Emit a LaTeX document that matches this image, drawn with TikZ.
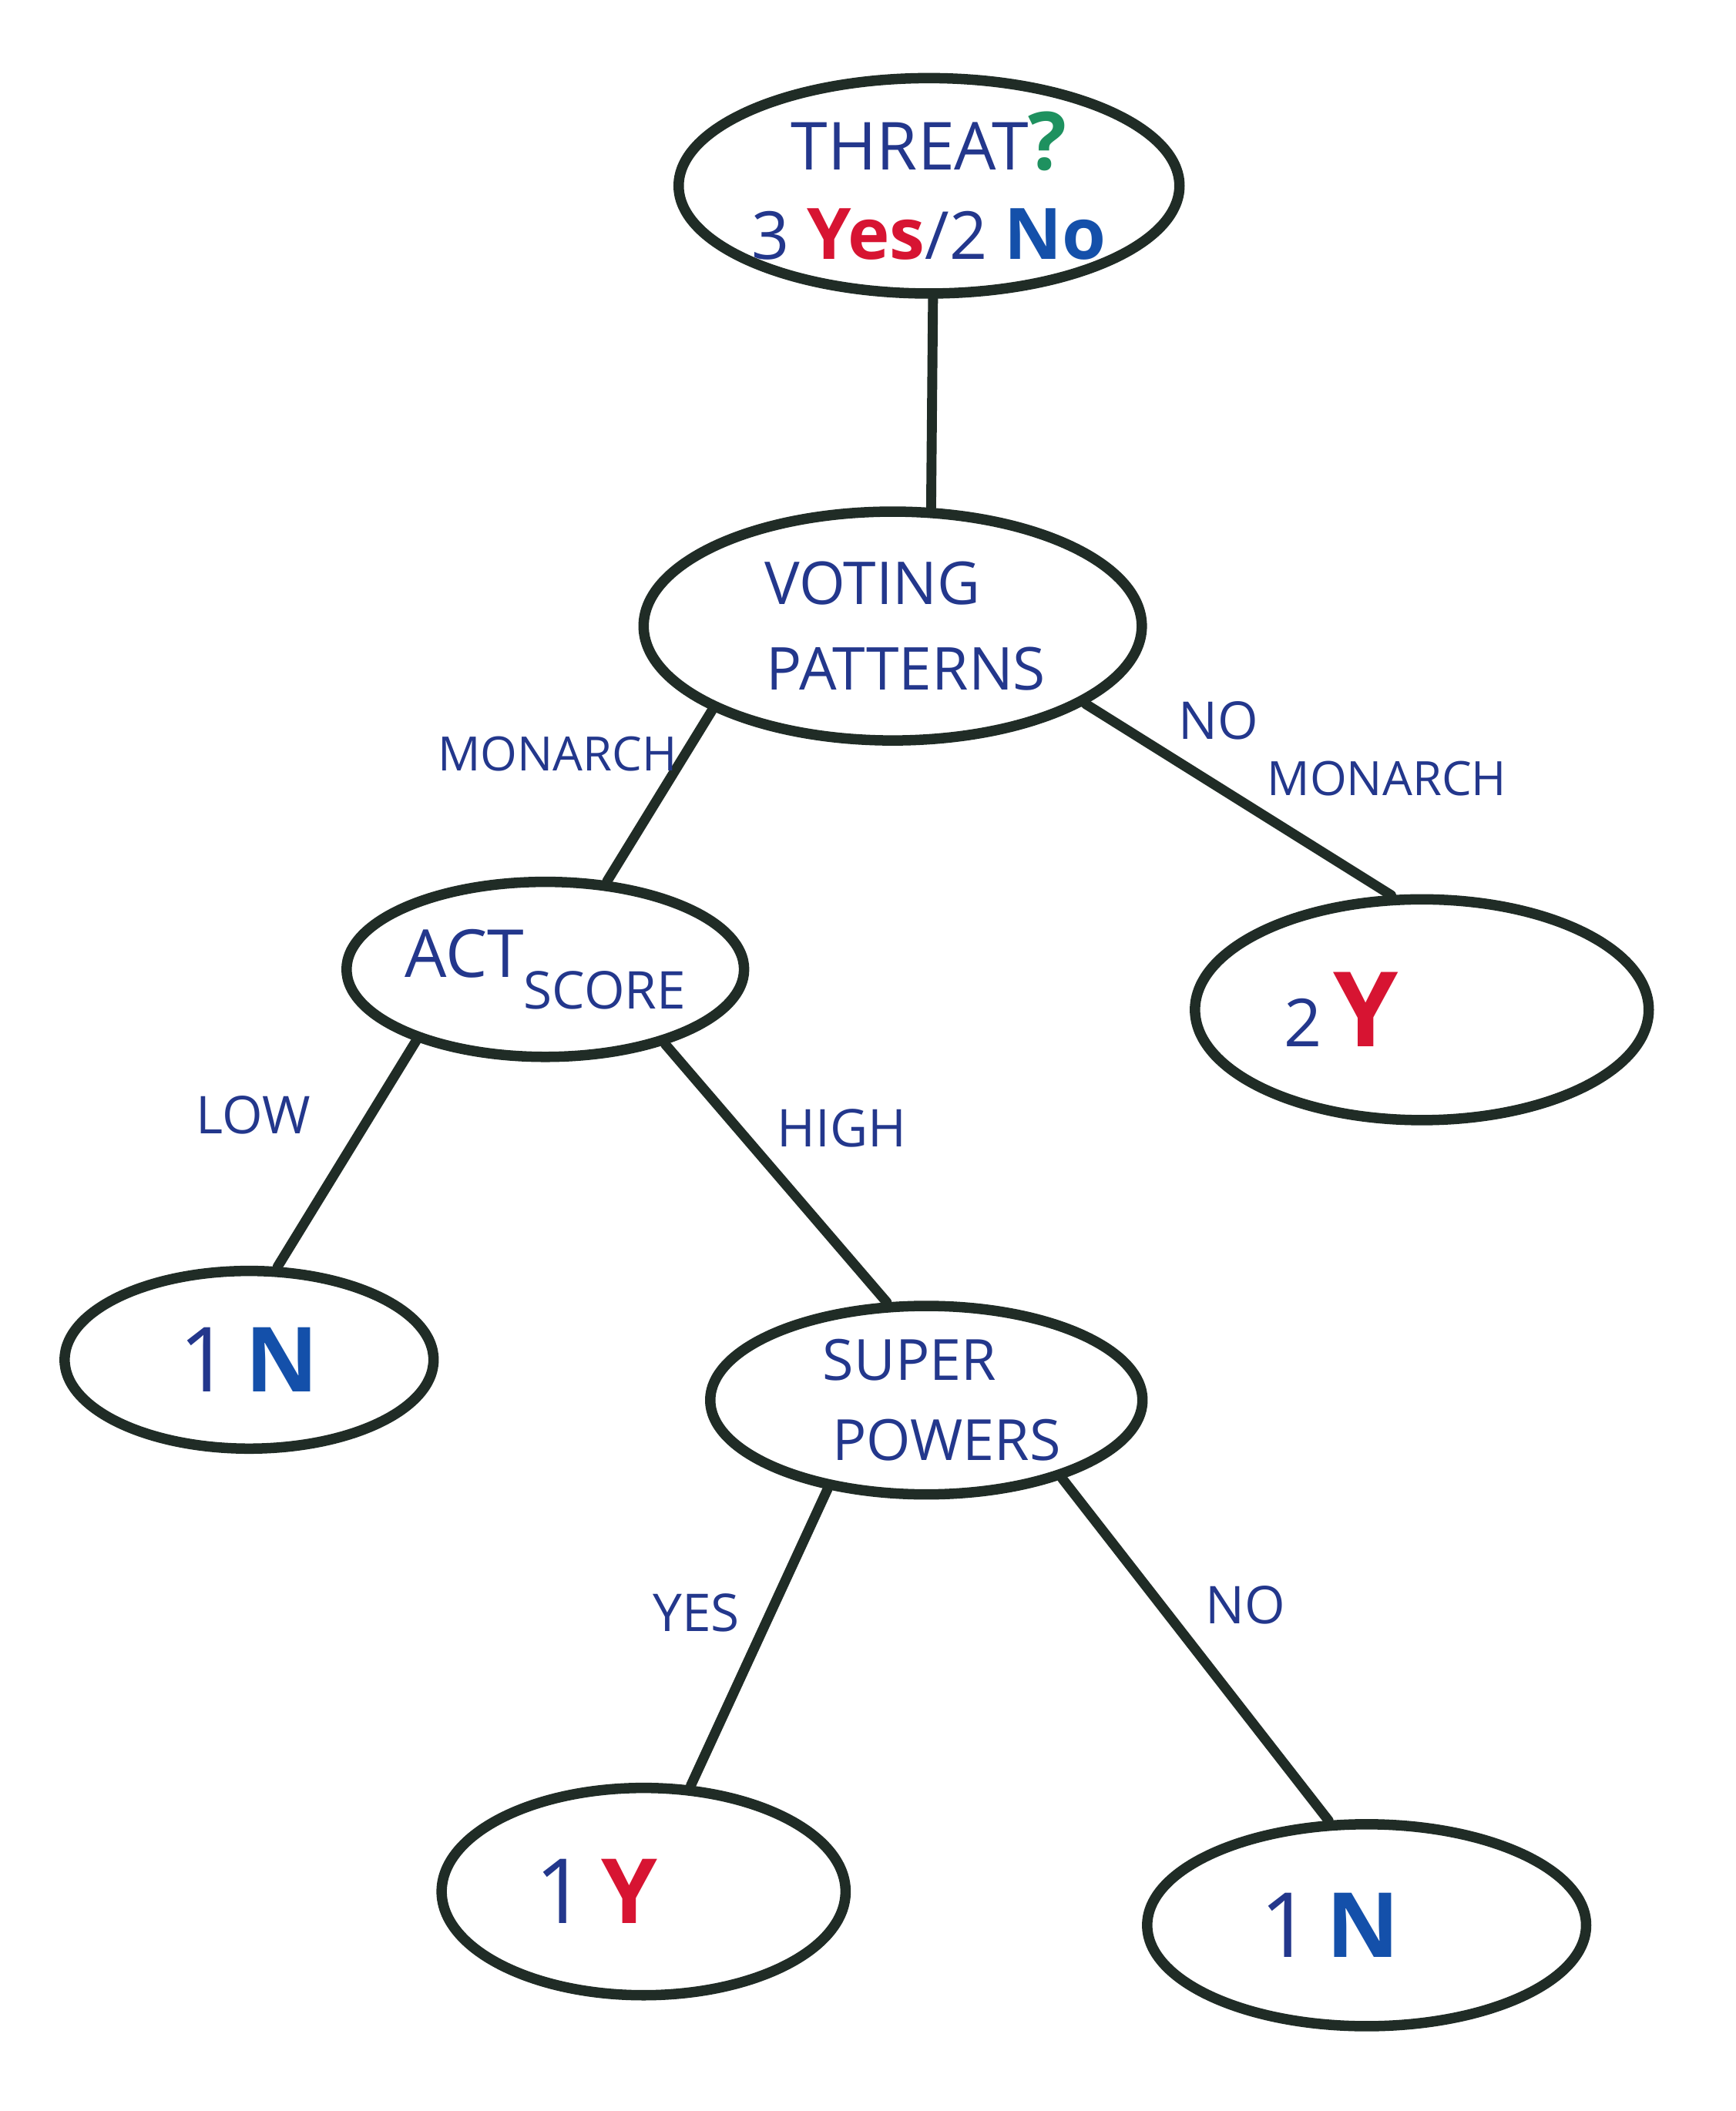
\documentclass[tikz,border=0pt]{standalone}
\usepackage{fontspec}
\setmainfont{Open Sans}
\usetikzlibrary{shapes.geometric}
\definecolor{inkline}{RGB}{32,44,38}
\definecolor{inkblue}{RGB}{35,55,140}
\definecolor{markblue}{RGB}{20,80,170}
\definecolor{markred}{RGB}{215,20,50}
\definecolor{markgreen}{RGB}{30,145,95}
\newcommand{\redmark}[1]{\textcolor{markred}{\bfseries #1}}
\newcommand{\bluemark}[1]{\textcolor{markblue}{\bfseries #1}}
\tikzset{
  blob/.style={ellipse,draw=inkline,line width=2.2pt,fill=white,align=center,inner sep=0pt,
    text=inkblue,font=\fontsize{14}{19}\selectfont},
  branch/.style={draw=inkline,line width=2.1pt,line cap=round},
  edgetag/.style={text=inkblue,font=\fontsize{11}{13}\selectfont,inner sep=1pt}
}

\begin{document}
\begin{tikzpicture}[x=0.1mm,y=-0.1mm]
  \useasboundingbox (0,0) rectangle (1289,1568);

  % question nodes
  \node[blob,minimum width=3.5cm,minimum height=1.6cm] (threat) at (690,138)
    {THREAT\textcolor{markgreen}{\bfseries\fontsize{17}{19}\selectfont ?}\\
     3 {\fontsize{15}{19}\selectfont\redmark{Yes}}/2 {\fontsize{15}{19}\selectfont\bluemark{No}}};
  \node[blob,minimum width=3.7cm,minimum height=1.7cm,font=\fontsize{12.5}{18}\selectfont] (voting) at (663,465)
    {VOTING\hspace*{0.3cm}\\ \hspace*{0.2cm}PATTERNS};
  \node[blob,minimum width=2.93cm,minimum height=1.3cm] (act) at (405,720)
    {ACT\raisebox{-0.9ex}{\fontsize{11}{13}\selectfont SCORE}};
  \node[blob,minimum width=3.21cm,minimum height=1.4cm,font=\fontsize{12}{17}\selectfont] (super) at (688,1040)
    {SUPER\hspace*{0.25cm}\\ \hspace*{0.3cm}POWERS};

  % leaves
  \node[blob,minimum width=3.37cm,minimum height=1.64cm] (twoy) at (1056,750)
    {2\,{\fontsize{22}{24}\selectfont\redmark{Y}}\hspace*{1.2cm}};
  \node[blob,minimum width=2.74cm,minimum height=1.32cm] (lown) at (185,1010)
    {\fontsize{19}{22}\selectfont 1\,\bluemark{N}};
  \node[blob,minimum width=3.0cm,minimum height=1.54cm] (oney) at (478,1405)
    {\fontsize{19}{22}\selectfont 1\,\redmark{Y}\hspace*{0.7cm}};
  \node[blob,minimum width=3.26cm,minimum height=1.5cm] (onen) at (1015,1430)
    {\fontsize{19}{22}\selectfont 1\,\bluemark{N}\hspace*{0.55cm}};

  % branches
  \draw[branch] (threat.272) -- (voting.72);
  \draw[branch] (voting.205) -- (act.55);
  \draw[branch] (voting.338) -- (twoy.105);
  \draw[branch] (act.209) -- (lown.73);
  \draw[branch] (act.328) -- (super.112);
  \draw[branch] (super.222) -- (oney.66);
  \draw[branch] (super.330) -- (onen.110);

  % branch labels
  \node[edgetag,font=\fontsize{10}{12}\selectfont] (tagmon) at (414,560) {MONARCH};
  \node[edgetag] (tagno) at (905,535) {NO};
  \node[edgetag,font=\fontsize{10}{12}\selectfont] (tagnomon) at (1030,578) {MONARCH};
  \node[edgetag] (taglow) at (188,828) {LOW};
  \node[edgetag] (taghigh) at (625,838) {HIGH};
  \node[edgetag] (tagyes) at (517,1198) {YES};
  \node[edgetag] (tagnopow) at (925,1192) {NO};
\end{tikzpicture}
\end{document}
